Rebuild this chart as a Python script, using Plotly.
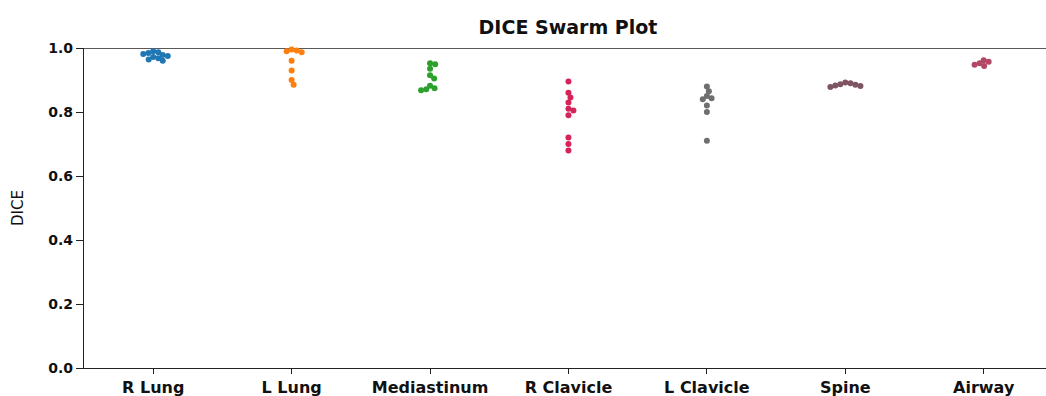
import numpy as np
import plotly.graph_objects as go

# DICE scores per structure
categories = ["R Lung", "L Lung", "Mediastinum", "R Clavicle", "L Clavicle", "Spine", "Airway"]
r_lung = [0.990, 0.987, 0.984, 0.981, 0.978, 0.975, 0.972, 0.968, 0.964, 0.960]
l_lung = [0.995, 0.992, 0.990, 0.987, 0.960, 0.930, 0.900, 0.885]
mediastinum = [0.952, 0.949, 0.935, 0.915, 0.905, 0.882, 0.874, 0.871, 0.868]
r_clavicle = [0.895, 0.860, 0.845, 0.830, 0.810, 0.805, 0.790, 0.720, 0.700, 0.680]
l_clavicle = [0.880, 0.865, 0.850, 0.843, 0.840, 0.820, 0.800, 0.710]
spine = [0.892, 0.890, 0.887, 0.885, 0.883, 0.881, 0.878]
airway = [0.962, 0.957, 0.952, 0.948, 0.944]
series = [r_lung, l_lung, mediastinum, r_clavicle, l_clavicle, spine, airway]
colors = ["#1f77b4", "#ff7f0e", "#2ca02c", "#d6245a", "#6f6f6f", "#7d5563", "#b34766"]

# layout geometry (pixels) used for the swarm packing
W, H = 1046, 396
M_L, M_R, M_T, M_B = 84, 0, 48, 28
X_RANGE = [-0.5, 6.45]
Y_RANGE = [0.0, 1.0]
px_per_x = (W - M_L - M_R) / (X_RANGE[1] - X_RANGE[0])
px_per_y = (H - M_T - M_B) / (Y_RANGE[1] - Y_RANGE[0])
MARKER = 6
GAP = 5.2  # centre spacing used when packing the swarm


def swarm_offsets(values, diameter):
    """Beeswarm: place each point at the smallest horizontal offset free of overlap."""
    vals = np.asarray(values, dtype=float)
    order = np.argsort(vals)[::-1]
    ys = vals * px_per_y
    placed = []  # (x_px, y_px)
    offsets = np.zeros(len(vals))
    for i in order:
        y = ys[i]
        cands = [0.0]
        for (px, py) in placed:
            dy = abs(py - y)
            if dy < diameter:
                dx = np.sqrt(diameter ** 2 - dy ** 2)
                cands += [px + dx, px - dx]
        cands.sort(key=abs)
        for c in cands:
            ok = all((c - px) ** 2 + (y - py) ** 2 >= diameter ** 2 - 1e-6 for (px, py) in placed)
            if ok:
                placed.append((c, y))
                offsets[i] = c
                break
    return offsets / px_per_x


fig = go.Figure()
for k, (name, vals, col) in enumerate(zip(categories, series, colors)):
    xs = k + swarm_offsets(vals, GAP)
    fig.add_trace(go.Scatter(
        x=xs, y=vals, mode="markers", name=name,
        marker=dict(size=MARKER, color=col, line=dict(width=0)),
        cliponaxis=False, showlegend=False,
    ))

# horizontal rule at DICE = 1.0
fig.add_shape(type="line", xref="paper", yref="y", x0=0, x1=1, y0=1.0, y1=1.0,
              line=dict(color="#222222", width=1.3), layer="below")

fig.update_layout(
    width=W, height=H,
    margin=dict(l=M_L, r=M_R, t=M_T, b=M_B),
    paper_bgcolor="white", plot_bgcolor="white",
    title=dict(text="<b>DICE Swarm Plot</b>", x=568 / W, xanchor="center",
               y=1 - 27 / H, yanchor="middle",
               font=dict(family="DejaVu Sans", size=19, color="#111111")),
    font=dict(family="DejaVu Sans", color="#111111"),
)
fig.update_xaxes(
    range=X_RANGE, tickmode="array", tickvals=list(range(len(categories))),
    ticktext=[f"<b>{c}</b>" for c in categories],
    showline=True, linecolor="#222222", linewidth=1.3, ticks="outside",
    ticklen=5, tickcolor="#222222", showgrid=False, zeroline=False,
    tickfont=dict(size=16),
)
fig.update_yaxes(
    range=Y_RANGE, tickvals=[0, 0.2, 0.4, 0.6, 0.8, 1.0],
    ticktext=["<b>0.0</b>", "<b>0.2</b>", "<b>0.4</b>", "<b>0.6</b>", "<b>0.8</b>", "<b>1.0</b>"],
    showline=True, linecolor="#222222", linewidth=1.3, ticks="outside",
    ticklen=7, tickcolor="#222222", showgrid=False, zeroline=False,
    tickfont=dict(size=14),
    title=dict(text="DICE", font=dict(size=15), standoff=20),
)

fig.write_html("out.html")
